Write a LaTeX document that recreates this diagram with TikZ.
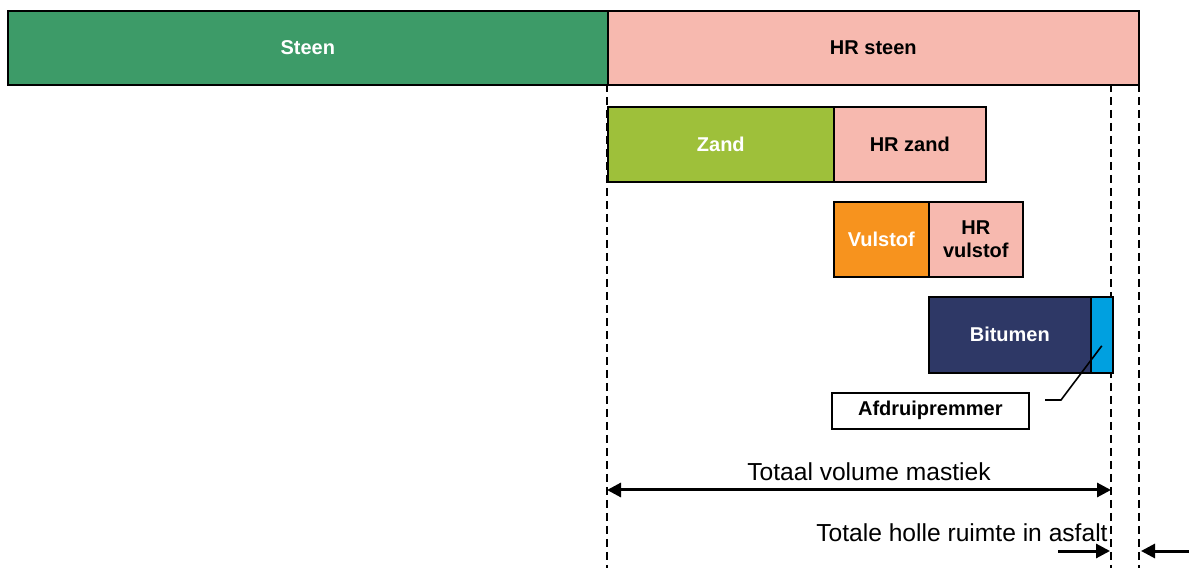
\documentclass[tikz,border=0pt]{standalone}
\usepackage{fontspec}
\setmainfont{Liberation Sans}
\usetikzlibrary{positioning}
\usetikzlibrary{arrows.meta}

\definecolor{steengreen}{RGB}{61,155,104}
\definecolor{hrpink}{RGB}{247,185,175}
\definecolor{zandgreen}{RGB}{158,192,58}
\definecolor{vulorange}{RGB}{247,147,30}
\definecolor{bitnavy}{RGB}{46,56,102}
\definecolor{afblue}{RGB}{0,160,224}

\begin{document}
\begin{tikzpicture}[x=0.5pt,y=-0.5pt,
    box/.style={draw=black, line width=0.8pt, inner sep=0pt, align=center,
        font=\bfseries\fontsize{10}{11.5}\selectfont},
    guide/.style={draw=black, line width=1.3pt, dash pattern=on 4pt off 2.5pt},
    dimarrow/.style={draw=black, line width=1.5pt, arrows={-Triangle[length=7pt,width=7pt]}},
    dimtext/.style={font=\fontsize{12.3}{14}\selectfont, inner sep=0pt}]
    \useasboundingbox (0,0) rectangle (1189,571);

    % Dashed guide lines (behind the boxes)
    \coordinate (g1top) at (607,84);
    \coordinate (g1) at (607,568);
    \coordinate (g2top) at (1111,84);
    \coordinate (g2) at (1111,568);
    \coordinate (g3top) at (1139,84);
    \coordinate (g3) at (1139,568);
    \draw[guide] (g1top) -- (g1);
    \draw[guide] (g2top) -- (g2);
    \draw[guide] (g3top) -- (g3);

    % Top row: stone and its voids
    \node[box, fill=steengreen, text=white, minimum width=300pt, minimum height=37pt,
        anchor=north west] (steen) at (7,10) {Steen};
    \node[box, fill=hrpink, minimum width=265.5pt, minimum height=37pt,
        right=-0.8pt of steen] (hrsteen) {HR steen};

    % Sand row
    \node[box, fill=zandgreen, text=white, minimum width=113pt, minimum height=37.5pt,
        anchor=north west] (zand) at (607,106) {Zand};
    \node[box, fill=hrpink, minimum width=76pt, minimum height=37.5pt,
        right=-0.8pt of zand] (hrzand) {HR zand};

    % Filler row
    \node[box, fill=vulorange, text=white, minimum width=47.5pt, minimum height=37.5pt,
        anchor=north west] (vulstof) at (833,201) {Vulstof};
    \node[box, fill=hrpink, minimum width=47pt, minimum height=37.5pt,
        right=-0.8pt of vulstof] (hrvulstof) {HR\\vulstof};

    % Bitumen row
    \node[box, fill=bitnavy, text=white, minimum width=81pt, minimum height=38pt,
        anchor=north west] (bitumen) at (928,296) {Bitumen};
    \node[box, fill=afblue, minimum width=11pt, minimum height=38pt,
        right=-0.8pt of bitumen] (afdruip) {};
    \node[box, fill=white, minimum width=98.5pt, minimum height=18pt,
        anchor=north west] (afdruiplabel) at (831,392) {Afdruipremmer};

    % Leader to the blue strip
    \coordinate (leadstart) at (1045,400);
    \coordinate (knik) at (1061,400);
    \draw[line width=0.8pt] (leadstart) -- (knik) -- ([yshift=-5.5pt]afdruip.center);

    % Dimension arrows
    \coordinate (mleft) at (607,490);
    \coordinate (mright) at (1111,490);
    \draw[dimarrow, arrows={Triangle[length=7pt,width=7pt]-Triangle[length=7pt,width=7pt]}]
        (mleft) -- (mright);
    \node[dimtext] (mastiek) at (869,472) {Totaal volume mastiek};

    \coordinate (h1a) at (1058,551);
    \coordinate (h1b) at (1110,551);
    \coordinate (h2a) at (1189,551);
    \coordinate (h2b) at (1141,551);
    \draw[dimarrow] (h1a) -- (h1b);
    \draw[dimarrow] (h2a) -- (h2b);
    \node[dimtext, anchor=east] (holle) at (1108,533) {Totale holle ruimte in asfalt};
\end{tikzpicture}
\end{document}
